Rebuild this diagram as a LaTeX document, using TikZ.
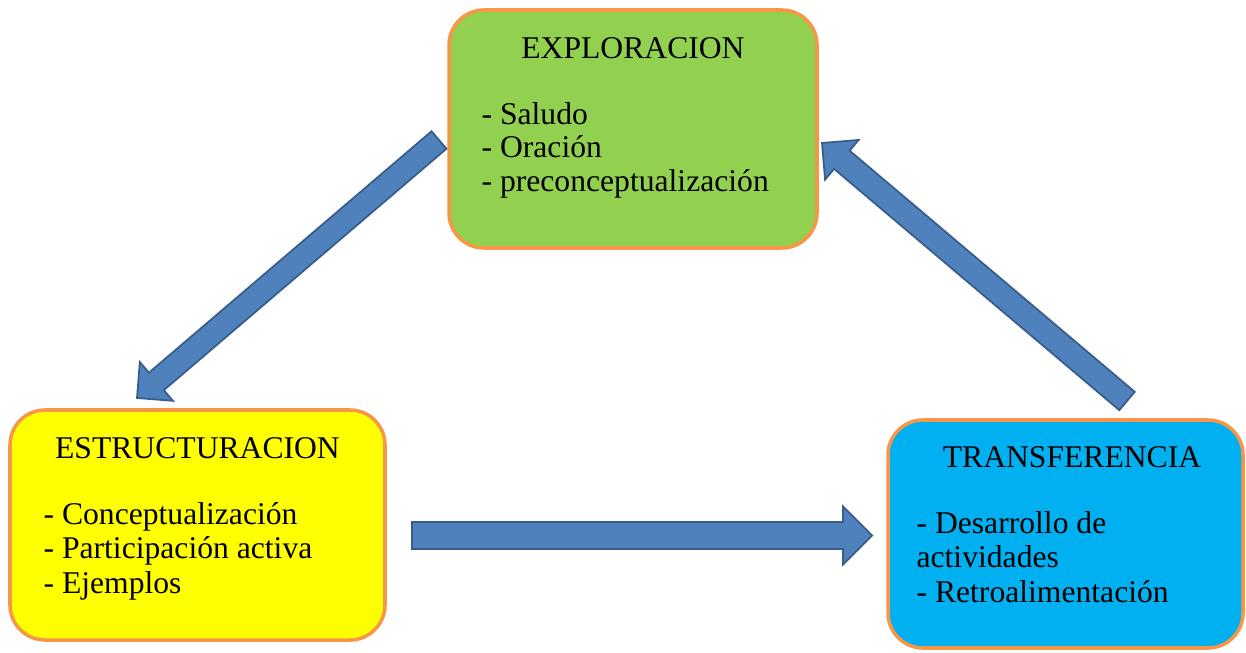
\documentclass[tikz,border=0pt]{standalone}
\usepackage{fontspec}
\setmainfont{LiberationSerif}[Extension=.ttf, UprightFont=*-Regular, BoldFont=*-Bold]
\usetikzlibrary{positioning,calc}
\definecolor{explogreen}{HTML}{92D050}
\definecolor{estrucyellow}{HTML}{FFFF00}
\definecolor{transfblue}{HTML}{00B0F0}
\definecolor{boxorange}{HTML}{F79646}
\definecolor{arrowblue}{HTML}{4F81BD}
\definecolor{arrowline}{HTML}{385D8A}
% block arrow: from, to, half shaft width, half head width
\newcommand{\blockarrow}[4]{%
  \coordinate (hb) at ($(#2)!#4!(#1)$);
  \draw[barrow] ($(#1)!#3!90:(#2)$) -- ($(hb)!#3!-90:(#1)$) -- ($(hb)!#4!-90:(#1)$)
    -- (#2) -- ($(hb)!#4!90:(#1)$) -- ($(hb)!#3!90:(#1)$) -- ($(#1)!#3!-90:(#2)$) -- cycle;
}
\begin{document}
\begin{tikzpicture}[
    font=\fontsize{18}{19}\selectfont,
    box/.style={draw=boxorange, line width=2pt, rounded corners=0.7cm},
    title/.style={anchor=base, inner sep=0pt},
    item/.style={anchor=base west, inner sep=0pt},
    barrow/.style={fill=arrowblue, draw=arrowline, line width=1pt, line join=miter},
]
\useasboundingbox (0,0) rectangle (24.92,13.04);
\node[box, fill=explogreen,   minimum width=7.36cm, minimum height=4.76cm] (explo)  at (12.66,10.46) {};
\node[box, fill=estrucyellow, minimum width=7.5cm,  minimum height=4.6cm]  (estruc) at (3.95,2.54)   {};
\node[box, fill=transfblue,   minimum width=7.1cm,  minimum height=4.56cm] (transf) at (21.31,2.36)  {};

\node[title] (exploT)  at ([yshift=-1.0cm]explo.north)  {EXPLORACION};
\node[title] (estrucT) at ([yshift=-1.0cm]estruc.north) {ESTRUCTURACION};
\node[title] (transfT) at ([xshift=0.13cm,yshift=-0.98cm]transf.north) {TRANSFERENCIA};

\foreach \txt [count=\i] in {- Saludo, - Oración, - preconceptualización}
  \node[item] (exploI\i) at ([xshift=0.68cm, yshift={-2.32cm-(\i-1)*0.67cm}]explo.north west) {\txt};
\foreach \txt [count=\i] in {- Conceptualización, - Participación activa, - Ejemplos}
  \node[item] (estrucI\i) at ([xshift=0.7cm, yshift={-2.32cm-(\i-1)*0.69cm}]estruc.north west) {\txt};
\foreach \txt [count=\i] in {- Desarrollo de, actividades, - Retroalimentación}
  \node[item] (transfI\i) at ([xshift=0.6cm, yshift={-2.3cm-(\i-1)*0.69cm}]transf.north west) {\txt};

% arrows
\coordinate (a1s) at (8.78,10.24);
\coordinate (a1e) at (2.74,5.08);
\coordinate (a2s) at (8.24,2.33);
\coordinate (a2e) at (17.44,2.33);
\coordinate (a3s) at (22.54,5.02);
\coordinate (a3e) at (16.44,10.18);
\blockarrow{a1s}{a1e}{0.23cm}{0.51cm}
\blockarrow{a2s}{a2e}{0.27cm}{0.58cm}
\blockarrow{a3s}{a3e}{0.24cm}{0.52cm}
\end{tikzpicture}
\end{document}
